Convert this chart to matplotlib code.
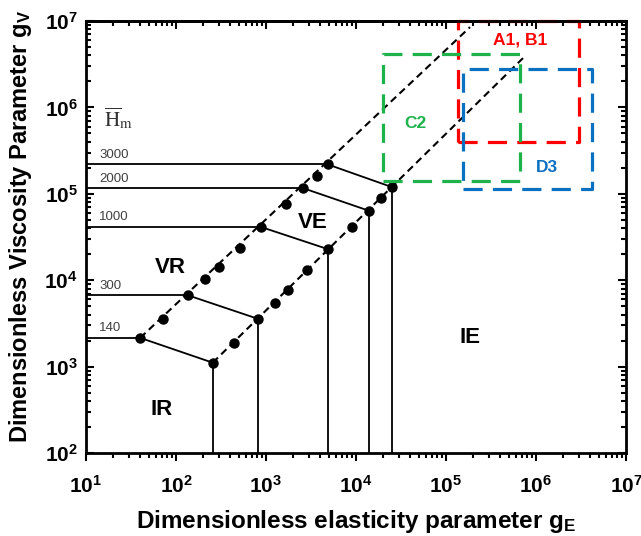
import matplotlib
matplotlib.use('Agg')
import matplotlib.pyplot as plt
import numpy as np

plt.rcParams['font.family'] = ['Liberation Sans', 'DejaVu Sans']
plt.rcParams['mathtext.fontset'] = 'custom'
plt.rcParams['mathtext.rm'] = 'Liberation Sans:bold'
plt.rcParams['mathtext.it'] = 'Liberation Sans:bold'
plt.rcParams['mathtext.bf'] = 'Liberation Sans:bold'

# H_m levels and the corner points on the two boundary lines
H_m = [140, 300, 1000, 2000, 3000]
upper_gE = [40, 135, 880, 2600, 4840]
upper_gV = [2150, 6700, 41300, 116000, 219000]
lower_gE = [256, 822, 4920, 13900, 25400]
lower_gV = [1110, 3560, 22800, 63700, 119000]

# extra dots on the boundary lines
upper_dot_gE = [71, 210, 303, 514, 1667, 3660]
upper_dot_gV = [3560, 10240, 14300, 23400, 76200, 162000]
lower_dot_gE = [441, 1259, 1741, 2876, 8950, 19000]
lower_dot_gV = [1890, 5500, 7710, 13100, 41600, 89400]

# end of the dashed boundary lines
upper_end = (1.85e5, 8.5e6)
lower_end = (7.7e5, 4.0e6)

# material regions (gE_min, gE_max, gV_min, gV_max)
boxes = {
    'A1, B1': ((1.36e5, 2.97e6, 4.0e5, 1.0e7), '#ff0000', (3.3e5, 6.1e6)),
    'C2': ((1.97e4, 6.6e5, 1.42e5, 4.1e6), '#1db34a', (3.4e4, 6.5e5)),
    'D3': ((1.53e5, 4.14e6, 1.14e5, 2.81e6), '#0a70c0', (1.0e6, 2.0e5)),
}

regions = {'VR': (86, 1.42e4), 'VE': (3300, 4.7e4), 'IR': (70, 315), 'IE': (1.85e5, 2200)}

fig = plt.figure(figsize=(6.41, 5.36), dpi=100)
ax = fig.add_axes([86/641, 1-453/536, 540/641, 432/536])
ax.set_xscale('log')
ax.set_yscale('log')
ax.set_xlim(1e1, 1e7)
ax.set_ylim(1e2, 1e7)

for i in range(len(H_m)):
    ax.plot([10, upper_gE[i]], [upper_gV[i], upper_gV[i]], 'k-', lw=1.3)
    ax.plot([upper_gE[i], lower_gE[i]], [upper_gV[i], lower_gV[i]], 'k-', lw=1.3)
    ax.plot([lower_gE[i], lower_gE[i]], [lower_gV[i], 100], 'k-', lw=1.3)
    ax.text(14, upper_gV[i] * 1.1, str(H_m[i]), fontsize=9.5, color='#404040',
            ha='left', va='bottom')

ax.plot([upper_gE[0], upper_end[0]], [upper_gV[0], upper_end[1]], 'k--', lw=1.5,
        dashes=(3.5, 2.2))
ax.plot([lower_gE[0], lower_end[0]], [lower_gV[0], lower_end[1]], 'k--', lw=1.5,
        dashes=(3.5, 2.2))

ax.plot(upper_gE, upper_gV, 'ko', ms=6.5)
ax.plot(lower_gE, lower_gV, 'ko', ms=6.5)
ax.plot(upper_dot_gE, upper_dot_gV, 'ko', ms=6.5)
ax.plot(lower_dot_gE, lower_dot_gV, 'ko', ms=6.5)

for name, (b, c, pos) in boxes.items():
    x0, x1, y0, y1 = b
    ax.plot([x0, x1, x1, x0, x0], [y0, y0, y1, y1, y0], color=c, lw=2.3,
            dashes=(6, 3.2), clip_on=False)
    ax.text(pos[0], pos[1], name, color=c, fontsize=12.5, fontweight='bold',
            ha='left', va='center')

for name, pos in regions.items():
    ax.text(pos[0], pos[1], name, fontsize=16, fontweight='bold', ha='center',
            va='center')

ax.text(16, 7.5e5, r'$\overline{\mathrm{H}}_{\mathrm{m}}$', fontsize=15,
        color='#333333', ha='left', va='center', math_fontfamily='stix')

fmt = matplotlib.ticker.FuncFormatter(lambda v, p: r'$10^{%d}$' % round(np.log10(v)))
ax.xaxis.set_major_formatter(fmt)
ax.yaxis.set_major_formatter(fmt)
ax.tick_params(axis='x', which='both', direction='out', width=1.5)
ax.tick_params(axis='y', which='both', direction='in', right=True, width=1.5)
ax.tick_params(which='major', length=6, labelsize=15)
ax.tick_params(which='minor', length=3.5)
ax.tick_params(axis='x', which='major', pad=10)
ax.tick_params(axis='y', which='major', pad=6)

# top ticks point inward
top = ax.secondary_xaxis('top')
top.tick_params(which='both', direction='in', width=1.5, labeltop=False)
top.tick_params(which='major', length=6)
top.tick_params(which='minor', length=3.5)

for s in ax.spines.values():
    s.set_linewidth(2)
top.spines['top'].set_linewidth(2)

ax.set_xlabel(r'Dimensionless elasticity parameter g$_{E}$', fontsize=17.5,
              fontweight='bold', labelpad=8)
ax.set_ylabel(r'Dimensionless Viscosity Parameter g$_{V}$', fontsize=17,
              fontweight='bold')
ax.yaxis.set_label_coords(-0.096, 0.525)

fig.savefig('out.png', dpi=100)
